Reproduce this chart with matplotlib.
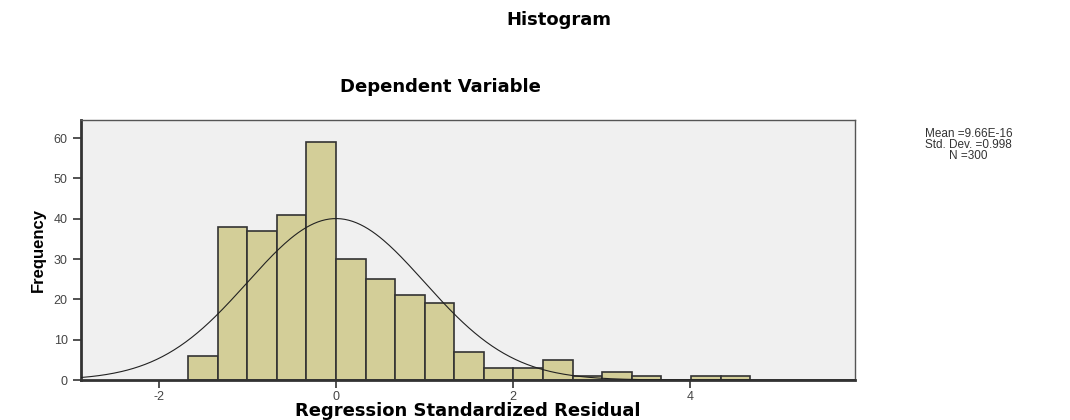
import numpy as np
import matplotlib
matplotlib.use('Agg')
import matplotlib.pyplot as plt

# histogram of regression standardized residuals
bin_width = 0.334
first_edge = -5 * bin_width
counts = [6, 38, 37, 41, 59, 30, 25, 21, 19, 7, 3, 3, 5, 1, 2, 1, 0, 1, 1]
mean = 9.66e-16
std = 0.998
n_obs = 300

x_ticks = [-2, 0, 2, 4]
y_ticks = [0, 10, 20, 30, 40, 50, 60]

BAR_COLOR = '#D3CE98'
BG_COLOR = '#F0F0F0'

plt.rcParams['font.family'] = ['DejaVu Sans']
plt.rcParams['axes.unicode_minus'] = False

fig = plt.figure(figsize=(10.7, 4.2), dpi=100)
ax = fig.add_axes([0.0757, 0.0952, 0.7233, 0.619])
ax.set_facecolor(BG_COLOR)

edges = first_edge + bin_width * np.arange(len(counts) + 1)
ax.bar(edges[:-1], counts, width=bin_width, align='edge', color=BAR_COLOR,
       edgecolor='#333333', linewidth=1.2, zorder=2)

xmin, xmax = -2.88, 5.86
xs = np.linspace(xmin, xmax, 400)
pdf = np.exp(-0.5 * ((xs - mean) / std) ** 2) / (std * np.sqrt(2 * np.pi))
ax.plot(xs, n_obs * bin_width * pdf, color='#222222', linewidth=0.8, zorder=3)

ax.set_xlim(xmin, xmax)
ax.set_ylim(0, 64.5)
ax.set_xticks(x_ticks)
ax.set_yticks(y_ticks)
ax.tick_params(axis='both', direction='out', length=6, width=1.2,
               colors='#333333', labelsize=9, labelcolor='#444444')
ax.tick_params(axis='x', pad=2)
for lab in ax.get_xticklabels() + ax.get_yticklabels():
    lab.set_family(['Liberation Sans'])

for side in ['left', 'bottom']:
    ax.spines[side].set_linewidth(2)
    ax.spines[side].set_color('#333333')
for side in ['top', 'right']:
    ax.spines[side].set_linewidth(1)
    ax.spines[side].set_color('#555555')

ax.set_xlabel('Regression Standardized Residual', fontsize=13, fontweight='bold',
              labelpad=-1)
ax.set_ylabel('Frequency', fontsize=12, fontweight='bold', labelpad=6,
              family=['Liberation Sans Narrow', 'Liberation Sans'])

fig.text(0.522, 0.952, 'Histogram', ha='center', va='center', fontsize=13,
         fontweight='bold')
fig.text(0.412, 0.793, 'Dependent Variable', ha='center', va='center',
         fontsize=13, fontweight='bold')
fig.text(0.905, 0.655, 'Mean =9.66E-16\nStd. Dev. =0.998\nN =300',
         ha='center', va='center', fontsize=8.5, linespacing=0.85,
         color='#333333', family=['Liberation Sans'])

fig.savefig('out.png', dpi=100)
